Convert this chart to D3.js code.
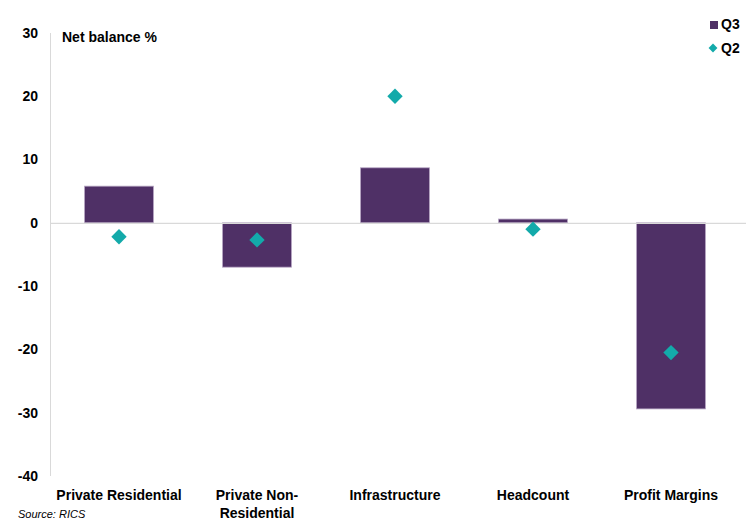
<!DOCTYPE html>
<html>
<head>
<meta charset="utf-8">
<script src="https://cdn.jsdelivr.net/npm/d3@7"></script>
<style>
  body { margin: 0; background: #fff; }
  svg text { font-family: "Liberation Sans", Arial, sans-serif; }
</style>
</head>
<body>
<svg id="chart" width="746" height="522"></svg>
<script>
// Survey balances by activity
const categories = [["Private Residential"], ["Private Non-", "Residential"], ["Infrastructure"], ["Headcount"], ["Profit Margins"]];
const q3Values = [5.8, -7.0, 8.7, 0.6, -29.4];
const q2Values = [-2.2, -2.7, 20.0, -1.0, -20.5];
const yTicks = [30, 20, 10, 0, -10, -20, -30, -40];

const barColor = "#4f3066";
const markerColor = "#13aaaa";

const svg = d3.select("#chart");
const margin = { left: 50, right: 6, top: 33, bottom: 46 };
const W = 746, H = 522;

const x = d3.scaleBand()
  .domain(d3.range(categories.length))
  .range([margin.left, W - margin.right])
  .paddingInner(0.5).paddingOuter(0.25);

const y = d3.scaleLinear().domain([-40, 30]).range([H - margin.bottom, margin.top]);

// vertical axis line
svg.append("line")
  .attr("x1", margin.left + 0.5).attr("x2", margin.left + 0.5)
  .attr("y1", y(30)).attr("y2", y(-40))
  .attr("stroke", "#d9d9d9").attr("stroke-width", 1);

// tick labels
svg.append("g").selectAll("text").data(yTicks).join("text")
  .attr("x", 38).attr("y", d => y(d)).attr("dy", "0.35em")
  .attr("text-anchor", "end")
  .attr("font-size", 14).attr("font-weight", "bold").attr("fill", "#000")
  .text(d => d);

// bars
svg.append("g").selectAll("rect").data(q3Values).join("rect")
  .attr("x", (d, i) => x(i))
  .attr("width", x.bandwidth())
  .attr("y", d => y(Math.max(0, d)))
  .attr("height", d => Math.abs(y(d) - y(0)))
  .attr("fill", barColor)
  .attr("stroke", "#b7a6c4").attr("stroke-width", 0.8);

// zero line
svg.append("line")
  .attr("x1", margin.left).attr("x2", W)
  .attr("y1", y(0) + 0.5).attr("y2", y(0) + 0.5)
  .attr("stroke", "#d9d9d9").attr("stroke-width", 1.2);

// Q2 markers
const diamond = d3.symbol().type(d3.symbolDiamond2).size(150);
svg.append("g").selectAll("path").data(q2Values).join("path")
  .attr("d", diamond)
  .attr("transform", (d, i) => `translate(${x(i) + x.bandwidth() / 2},${y(d)})`)
  .attr("fill", markerColor);

// category labels
const cat = svg.append("g").selectAll("text").data(categories).join("text")
  .attr("x", (d, i) => x(i) + x.bandwidth() / 2)
  .attr("y", 500)
  .attr("text-anchor", "middle")
  .attr("font-size", 14).attr("font-weight", "bold").attr("fill", "#000");
cat.selectAll("tspan").data(d => d).join("tspan")
  .attr("x", function () { return this.parentNode.getAttribute("x"); })
  .attr("dy", (d, i) => i === 0 ? 0 : 18)
  .text(d => d);

// title
svg.append("text").attr("x", 62).attr("y", 42)
  .attr("font-size", 14).attr("font-weight", "bold").text("Net balance %");

// legend
const legend = svg.append("g");
legend.append("rect").attr("x", 710).attr("y", 21).attr("width", 8).attr("height", 8).attr("fill", barColor);
legend.append("text").attr("x", 721).attr("y", 29).attr("font-size", 14).attr("font-weight", "bold").text("Q3");
legend.append("path").attr("d", d3.symbol().type(d3.symbolDiamond2).size(50))
  .attr("transform", "translate(713,48)").attr("fill", markerColor);
legend.append("text").attr("x", 721).attr("y", 53).attr("font-size", 14).attr("font-weight", "bold").text("Q2");

// source
svg.append("text").attr("x", 18).attr("y", 518)
  .attr("font-size", 11).attr("font-style", "italic").text("Source: RICS");
</script>
</body>
</html>
